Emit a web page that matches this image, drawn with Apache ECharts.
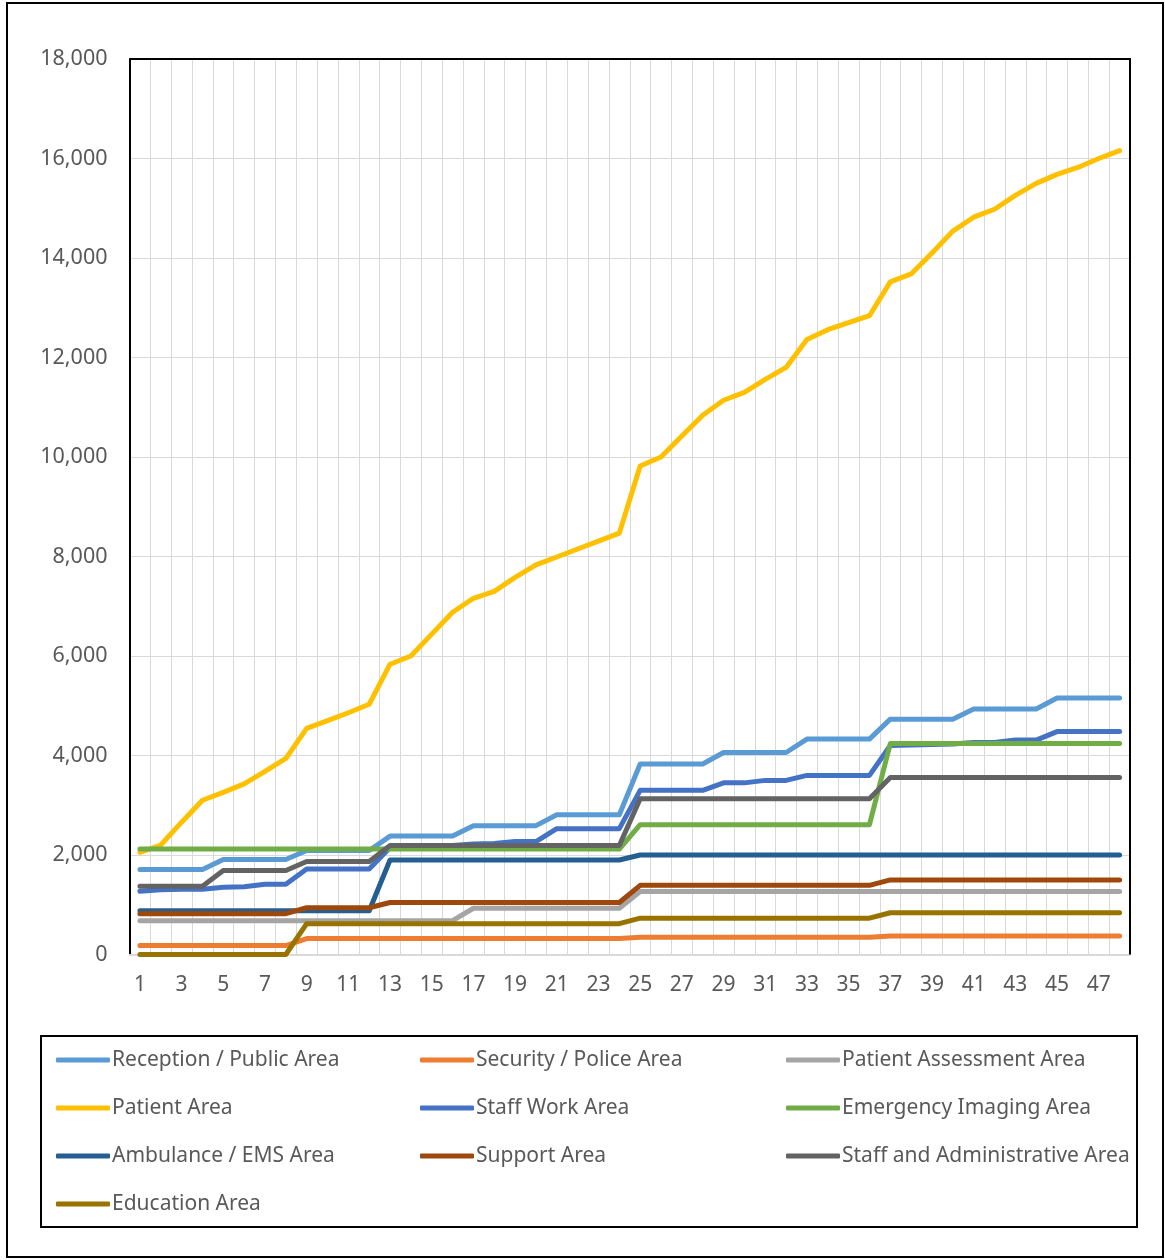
<!DOCTYPE html>
<html lang="en">
<head>
    <meta charset="UTF-8">
    <title>area-growth</title>
    <script src="https://cdn.jsdelivr.net/npm/echarts@6.0.0/dist/echarts.min.js"></script>
    <style>
        html, body { margin: 0; padding: 0; background: #fff; }
    </style>
</head>
<body>
    <div id="main" style="width: 1165px;height:1260px;"></div>

    <script>
        // x categories (1..48)
        var cats = ['1','2','3','4','5','6','7','8','9','10','11','12','13','14','15','16',
            '17','18','19','20','21','22','23','24','25','26','27','28','29','30','31','32',
            '33','34','35','36','37','38','39','40','41','42','43','44','45','46','47','48'];

        var reception = [1710,1710,1710,1710,1910,1910,1910,1910,2090,2090,2090,2090,
            2380,2380,2380,2380,2590,2590,2590,2590,2810,2810,2810,2810,
            3830,3830,3830,3830,4060,4060,4060,4060,4330,4330,4330,4330,
            4730,4730,4730,4730,4935,4935,4935,4935,5155,5155,5155,5155];
        var security = [180,180,180,180,180,180,180,180,320,320,320,320,
            320,320,320,320,320,320,320,320,320,320,320,320,
            345,345,345,345,345,345,345,345,345,345,345,345,
            370,370,370,370,370,370,370,370,370,370,370,370];
        var assessment = [680,680,680,680,680,680,680,680,680,680,680,680,
            680,680,680,680,930,930,930,930,930,930,930,930,
            1265,1265,1265,1265,1265,1265,1265,1265,1265,1265,1265,1265,
            1265,1265,1265,1265,1265,1265,1265,1265,1265,1265,1265,1265];
        var patient = [2050,2200,2660,3100,3260,3430,3680,3940,4545,4700,4860,5030,
            5835,6000,6440,6880,7160,7300,7580,7830,7990,8150,8310,8470,
            9820,10000,10420,10840,11140,11300,11560,11800,12360,12560,12700,12840,
            13520,13680,14100,14540,14820,14980,15260,15500,15680,15820,16000,16160];
        var staffWork = [1270,1300,1310,1310,1350,1360,1410,1410,1720,1720,1720,1720,
            2150,2170,2180,2190,2220,2230,2270,2270,2530,2530,2530,2530,
            3300,3300,3300,3300,3450,3450,3500,3500,3600,3600,3600,3600,
            4200,4210,4220,4230,4260,4260,4310,4310,4480,4480,4480,4480];
        var imaging = [2120,2120,2120,2120,2120,2120,2120,2120,2120,2120,2120,2120,
            2120,2120,2120,2120,2120,2120,2120,2120,2120,2120,2120,2120,
            2610,2610,2610,2610,2610,2610,2610,2610,2610,2610,2610,2610,
            4240,4240,4240,4240,4240,4240,4240,4240,4240,4240,4240,4240];
        var ambulance = [880,880,880,880,880,880,880,880,880,880,880,880,
            1900,1900,1900,1900,1900,1900,1900,1900,1900,1900,1900,1900,
            2000,2000,2000,2000,2000,2000,2000,2000,2000,2000,2000,2000,
            2000,2000,2000,2000,2000,2000,2000,2000,2000,2000,2000,2000];
        var support = [820,820,820,820,820,820,820,820,940,940,940,940,
            1045,1045,1045,1045,1045,1045,1045,1045,1045,1045,1045,1045,
            1390,1390,1390,1390,1390,1390,1390,1390,1390,1390,1390,1390,
            1500,1500,1500,1500,1500,1500,1500,1500,1500,1500,1500,1500];
        var admin = [1370,1370,1370,1370,1690,1690,1690,1690,1870,1870,1870,1870,
            2190,2190,2190,2190,2190,2190,2190,2190,2190,2190,2190,2190,
            3130,3130,3130,3130,3130,3130,3130,3130,3130,3130,3130,3130,
            3560,3560,3560,3560,3560,3560,3560,3560,3560,3560,3560,3560];
        var education = [0,0,0,0,0,0,0,0,620,620,620,620,
            620,620,620,620,620,620,620,620,620,620,620,620,
            730,730,730,730,730,730,730,730,730,730,730,730,
            840,840,840,840,840,840,840,840,840,840,840,840];

        var names = ['Reception / Public Area', 'Security / Police Area', 'Patient Assessment Area',
            'Patient Area', 'Staff Work Area', 'Emergency Imaging Area',
            'Ambulance / EMS Area', 'Support Area', 'Staff and Administrative Area',
            'Education Area'];
        var colors = ['#5B9BD5', '#ED7D31', '#A5A5A5', '#FFC000', '#4472C4', '#70AD47',
            '#255E91', '#9E480E', '#636363', '#997300'];
        var values = [reception, security, assessment, patient, staffWork, imaging,
            ambulance, support, admin, education];

        var font = 'Noto Sans';
        var textColor = '#595959';

        var series = names.map(function (n, i) {
            return {
                name: n,
                type: 'line',
                data: values[i],
                showSymbol: false,
                lineStyle: { width: 5, color: colors[i], cap: 'round', join: 'round' },
                itemStyle: { color: colors[i] }
            };
        });

        // three legend columns, laid out like the excel legend
        function legendCol(left, data) {
            return {
                orient: 'vertical',
                left: left,
                top: 1048,
                padding: 0,
                itemGap: 24,
                itemWidth: 54,
                itemHeight: 5,
                icon: 'roundRect',
                selectedMode: false,
                textStyle: { fontFamily: font, fontSize: 21, color: textColor, lineHeight: 24, padding: [0, 0, 0, -3] },
                data: data
            };
        }

        var myChart = echarts.init(document.getElementById('main'));
        var option = {
            animation: false,
            backgroundColor: '#fff',
            graphic: [
                { type: 'rect', shape: { x: 7, y: 3, width: 1156, height: 1254 },
                  style: { fill: null, stroke: '#000', lineWidth: 2 } },
                { type: 'rect', shape: { x: 41, y: 1036, width: 1096, height: 191 },
                  style: { fill: null, stroke: '#000', lineWidth: 2 } },
                // plot area frame: top and right edges in black, drawn over the gridlines
                { type: 'polyline', z: 100, shape: { points: [[129.5, 59], [1130, 59], [1130, 954.5]] },
                  style: { fill: null, stroke: '#000', lineWidth: 2 } }
            ],
            grid: {
                left: 129.5, right: 35, top: 59, bottom: 305.5
            },
            legend: [
                legendCol(56, [names[0], names[3], names[6], names[9]]),
                legendCol(420, [names[1], names[4], names[7]]),
                legendCol(786, [names[2], names[5], names[8]])
            ],
            xAxis: {
                type: 'category',
                data: cats,
                boundaryGap: true,
                axisLine: { lineStyle: { color: '#D9D9D9', width: 2 } },
                axisTick: { show: false },
                axisLabel: { interval: 1, margin: 20, fontFamily: font, fontSize: 21, color: textColor },
                splitLine: { show: true, interval: 0, lineStyle: { color: '#D9D9D9', width: 1 } }
            },
            yAxis: {
                type: 'value',
                min: 0, max: 18000, interval: 2000,
                axisLine: { show: true, lineStyle: { color: '#000', width: 2 } },
                axisTick: { show: false },
                axisLabel: {
                    margin: 22, fontFamily: font, fontSize: 21.5, color: textColor,
                    formatter: function (v) { return v.toLocaleString('en-US'); }
                },
                splitLine: { lineStyle: { color: '#D9D9D9', width: 1 } }
            },
            series: series
        };

        myChart.setOption(option);
    </script>
</body>
</html>
